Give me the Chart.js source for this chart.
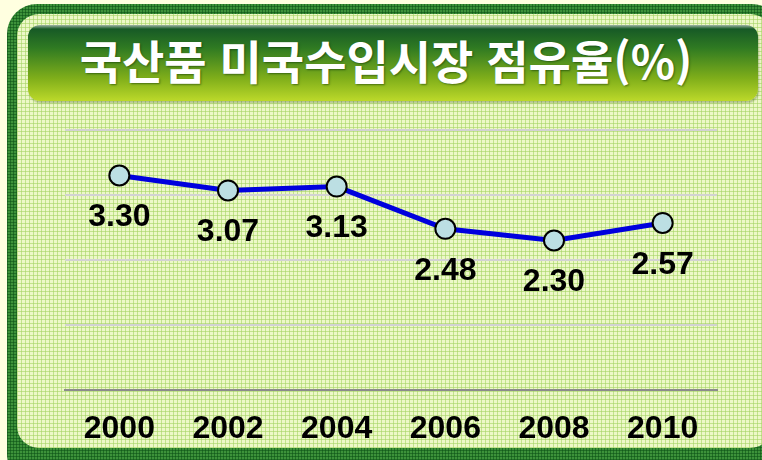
<!DOCTYPE html>
<html lang="ko">
<head>
<meta charset="UTF-8">
<title>국산품 미국수입시장 점유율</title>
<script src="https://cdn.jsdelivr.net/npm/chart.js@4.4.0/dist/chart.umd.min.js"></script>
<style>
  html, body { margin: 0; padding: 0; background: #ffffe0; }
  #wrap { position: relative; width: 762px; height: 460px; overflow: hidden; background: #ffffe0; }
  #frame {
    position: absolute; left: 7px; top: 4px; width: 775px; height: 480px;
    border-radius: 30px;
    background-color: #3d923a;
    background-image:
      repeating-linear-gradient(0deg, rgba(10,80,20,0.55) 0 1px, transparent 1px 3px),
      repeating-linear-gradient(90deg, rgba(10,80,20,0.55) 0 1px, transparent 1px 3px);
  }
  #inner {
    position: absolute; left: 10px; top: 10px; right: 10px; bottom: 36px;
    border-radius: 22px;
    background-color: #edf8c8;
    background-image:
      repeating-linear-gradient(0deg, rgba(165,212,100,0.6) 0 1px, transparent 1px 4px),
      repeating-linear-gradient(90deg, rgba(165,212,100,0.6) 0 1px, transparent 1px 4px);
  }
  #banner {
    position: absolute; left: 28px; top: 25px; width: 730px; height: 76px;
    box-sizing: border-box; padding-right: 14px;
    border-radius: 12px;
    background: linear-gradient(to bottom, #9fb5a6 0px, #175a26 4px, #2f7a22 30%, #7fae1a 70%, #bcd92a 100%);
    box-shadow: 1px 2px 2px rgba(60,90,20,0.35);
    color: #fff;
    font-family: "Noto Sans CJK KR", "Noto Sans", sans-serif;
    font-weight: bold; font-size: 46px;
    line-height: 68px; text-align: center;
    text-shadow: 1px 1px 2px rgba(0,40,0,0.5);
  }
  #chart { position: absolute; left: 0; top: 0; }
</style>
</head>
<body>
<div id="wrap">
  <div id="frame"><div id="inner"></div></div>
  <div id="banner">국산품 미국수입시장 점유율(%)</div>
  <canvas id="chart" width="762" height="460"></canvas>
</div>
<script>
  const years = ['2000', '2002', '2004', '2006', '2008', '2010'];
  const shares = [3.30, 3.07, 3.13, 2.48, 2.30, 2.57];

  Chart.defaults.font.family = "'Liberation Sans', Arial, sans-serif";

  // draws the value under each point
  const valueLabels = {
    id: 'valueLabels',
    afterDatasetsDraw(chart) {
      const ctx = chart.ctx;
      const meta = chart.getDatasetMeta(0);
      ctx.save();
      ctx.font = "bold 32px 'Liberation Sans', Arial, sans-serif";
      ctx.fillStyle = '#000';
      ctx.textAlign = 'center';
      ctx.textBaseline = 'middle';
      meta.data.forEach((pt, i) => {
        ctx.fillText(shares[i].toFixed(2), pt.x, pt.y + 42);
      });
      ctx.restore();
    }
  };

  new Chart(document.getElementById('chart'), {
    type: 'line',
    data: {
      labels: years,
      datasets: [{
        data: shares,
        borderColor: '#0000dd',
        borderWidth: 5,
        pointRadius: 10,
        pointBackgroundColor: '#bcdfe3',
        pointBorderColor: '#000',
        pointBorderWidth: 2,
        tension: 0
      }]
    },
    options: {
      responsive: false,
      animation: false,
      layout: { padding: { left: 65, right: 45, top: 130, bottom: 0 } },
      plugins: { legend: { display: false }, tooltip: { enabled: false } },
      scales: {
        x: {
          offset: true,
          grid: { display: false, drawTicks: false },
          border: { display: true, color: '#8c8c8c', width: 2 },
          ticks: { color: '#000', padding: 20, font: { size: 32, weight: 'bold' } },
          afterFit: s => { s.height = 70; }
        },
        y: {
          min: 0, max: 4,
          ticks: { display: false, stepSize: 1 },
          border: { display: false },
          grid: {
            drawTicks: false,
            lineWidth: 2,
            color: c => c.tick.value === 0 ? 'rgba(0,0,0,0)' : '#d2d2d2'
          }
        }
      }
    },
    plugins: [valueLabels]
  });
</script>
</body>
</html>
